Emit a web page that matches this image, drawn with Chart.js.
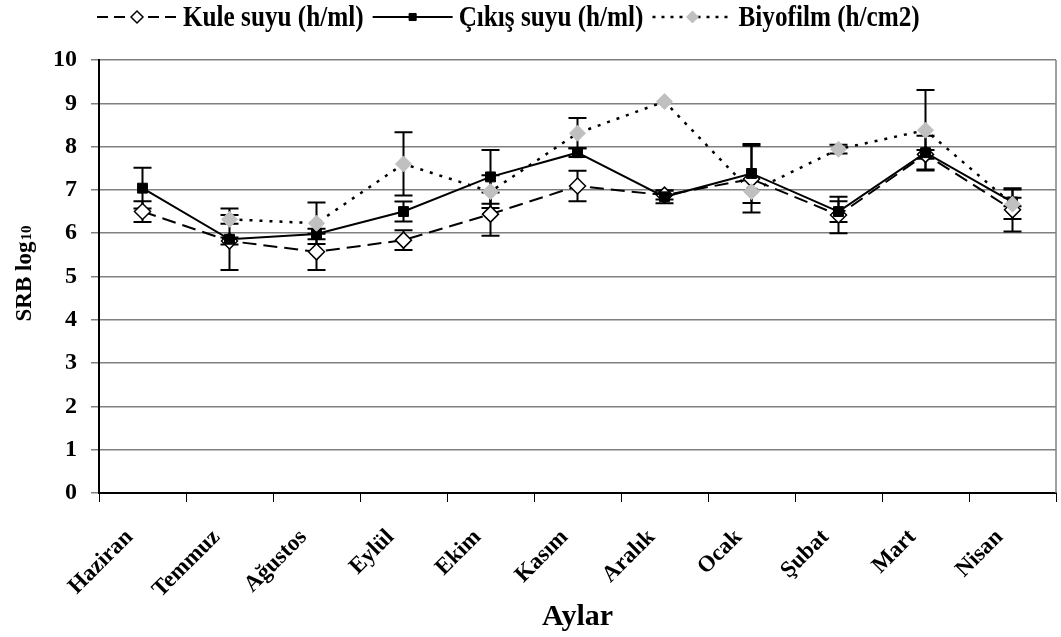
<!DOCTYPE html>
<html>
<head>
<meta charset="utf-8">
<script src="https://cdn.jsdelivr.net/npm/chart.js@4/dist/chart.umd.min.js"></script>
<style>
  html, body { margin: 0; padding: 0; background: #fff; }
  #wrap { width: 1061px; height: 637px; }
</style>
</head>
<body>
<div id="wrap"><canvas id="c" width="1061" height="637"></canvas></div>
<script>
// Monthly SRB counts (log10) for tower water, outlet water and biofilm
const months = ['Haziran', 'Temmuz', 'Ağustos', 'Eylül', 'Ekim', 'Kasım', 'Aralık', 'Ocak', 'Şubat', 'Mart', 'Nisan'];

const kuleSuyu    = [6.50, 5.82, 5.57, 5.84, 6.44, 7.09, 6.88, 7.25, 6.42, 7.82, 6.54];
const kuleHata    = [0.24, 0.08, 0.42, 0.23, 0.50, 0.35, 0.10, 0.77, 0.42, 0.10, 0.50];

const cikisSuyu   = [7.04, 5.86, 5.98, 6.50, 7.30, 7.86, 6.84, 7.38, 6.50, 7.86, 6.72];
const cikisHata   = [0.47, 0.71, 0.12, 0.23, 0.62, 0.10, 0.15, 0.68, 0.24, 0.39, 0.10];

const biyofilm    = [null, 6.32, 6.23, 7.60, 6.96, 8.31, 9.04, 6.96, 7.94, 8.38, 6.67];
const biyofilmHata= [0, 0.10, 0.48, 0.73, 0.38, 0.35, 0, 0, 0.10, 0.93, 0.34];

const yTicks = [0, 1, 2, 3, 4, 5, 6, 7, 8, 9, 10];

const serif = '"Liberation Serif", "Times New Roman", serif';

// vertical error bars with caps, drawn from each dataset's "errors" array
const errorBars = {
  id: 'errorBars',
  beforeDatasetsDraw(chart) {
    const ctx = chart.ctx;
    const ys = chart.scales.y;
    chart.data.datasets.forEach((ds, i) => {
      const meta = chart.getDatasetMeta(i);
      if (!ds.errors) return;
      ctx.save();
      ctx.strokeStyle = '#000';
      ctx.lineWidth = 2;
      meta.data.forEach((pt, j) => {
        const v = ds.data[j];
        const e = ds.errors[j];
        if (v == null || !e) return;
        const x = pt.x;
        const yTop = ys.getPixelForValue(v + e);
        const yBot = ys.getPixelForValue(v - e);
        ctx.beginPath();
        ctx.moveTo(x, yTop); ctx.lineTo(x, yBot);
        ctx.moveTo(x - 9, yTop); ctx.lineTo(x + 9, yTop);
        ctx.moveTo(x - 9, yBot); ctx.lineTo(x + 9, yBot);
        ctx.stroke();
      });
      ctx.restore();
    });
  }
};

// frame, y axis title with subscript and the legend row
const decorations = {
  id: 'decorations',
  afterDraw(chart) {
    const ctx = chart.ctx;
    const a = chart.chartArea;
    ctx.save();
    // right edge of the plot frame
    ctx.strokeStyle = '#808080';
    ctx.lineWidth = 1.5;
    ctx.beginPath();
    ctx.moveTo(a.right, a.top); ctx.lineTo(a.right, a.bottom);
    ctx.stroke();

    // y axis title: SRB log10
    ctx.translate(25, 274);
    ctx.rotate(-Math.PI / 2);
    ctx.fillStyle = '#000';
    ctx.textBaseline = 'middle';
    const main = 'SRB log';
    ctx.font = 'bold 23px ' + serif;
    const w1 = ctx.measureText(main).width;
    ctx.font = 'bold 15px ' + serif;
    const w2 = ctx.measureText('10').width;
    const start = -(w1 + w2) / 2;
    ctx.font = 'bold 23px ' + serif;
    ctx.textAlign = 'left';
    ctx.fillText(main, start, 0);
    ctx.font = 'bold 15px ' + serif;
    ctx.fillText('10', start + w1 + 1, 2);
    ctx.restore();

    // legend (narrowed bold serif)
    ctx.save();
    ctx.textBaseline = 'middle';
    ctx.fillStyle = '#000';
    const ly = 17;
    const squeeze = 0.84;
    let x = 97;
    chart.data.datasets.slice().sort((p, q) => p.legendIndex - q.legendIndex).forEach(ds => {
      const len = 80;
      ctx.save();
      ctx.strokeStyle = '#000';
      ctx.lineWidth = ds.borderWidth;
      ctx.setLineDash(ds.legendDash || []);
      ctx.beginPath();
      ctx.moveTo(x, ly); ctx.lineTo(x + len, ly);
      ctx.stroke();
      ctx.restore();
      ctx.save();
      ctx.fillStyle = ds.pointBackgroundColor;
      ctx.strokeStyle = ds.pointBorderColor;
      ctx.lineWidth = ds.pointBorderWidth;
      Chart.helpers.drawPoint(ctx, {
        pointStyle: ds.pointStyle,
        radius: ds.pointRadius - 2,
        borderWidth: ds.pointBorderWidth
      }, x + len / 2, ly);
      ctx.restore();
      ctx.save();
      ctx.font = 'bold 30px ' + serif;
      const tx = x + len + 6;
      ctx.translate(tx, ly + 1);
      ctx.scale(squeeze, 1);
      ctx.textAlign = 'left';
      ctx.fillStyle = '#000';
      ctx.fillText(ds.label, 0, 0);
      const tw = ctx.measureText(ds.label).width * squeeze;
      ctx.restore();
      x = tx + tw + 9;
    });
    ctx.restore();
  }
};

new Chart(document.getElementById('c'), {
  type: 'line',
  data: {
    labels: months,
    datasets: [
      {
        label: 'Biyofilm (h/cm2)',
        legendIndex: 2,
        legendDash: [3, 6],
        data: biyofilm,
        errors: biyofilmHata,
        borderColor: '#000',
        borderWidth: 2.5,
        borderDash: [3, 7],
        pointStyle: 'rectRot',
        pointRadius: 8,
        pointBackgroundColor: '#c0c0c0',
        pointBorderColor: '#c0c0c0',
        pointBorderWidth: 1,
        spanGaps: false,
        order: 0
      },
      {
        label: 'Çıkış suyu (h/ml)',
        legendIndex: 1,
        data: cikisSuyu,
        errors: cikisHata,
        borderColor: '#000',
        borderWidth: 2,
        pointStyle: 'rect',
        pointRadius: 7,
        pointBackgroundColor: '#000',
        pointBorderColor: '#000',
        pointBorderWidth: 1,
        order: 1
      },
      {
        label: 'Kule suyu (h/ml)',
        legendIndex: 0,
        legendDash: [11, 6],
        data: kuleSuyu,
        errors: kuleHata,
        borderColor: '#000',
        borderWidth: 2,
        borderDash: [14, 7],
        pointStyle: 'rectRot',
        pointRadius: 8,
        pointBackgroundColor: '#fff',
        pointBorderColor: '#000',
        pointBorderWidth: 1.5,
        order: 2
      }
    ]
  },
  options: {
    responsive: false,
    animation: false,
    devicePixelRatio: 1,
    layout: { autoPadding: false, padding: { top: 60, right: 5, left: 0, bottom: 0 } },
    plugins: {
      legend: { display: false },
      tooltip: { enabled: false }
    },
    elements: { line: { tension: 0 } },
    scales: {
      x: {
        type: 'category',
        offset: true,
        afterFit(s) { s.height = 144; s.paddingLeft = 0; s.paddingRight = 0; },
        grid: {
          offset: true,
          drawOnChartArea: false,
          drawTicks: true,
          tickLength: 9,
          color: '#000',
          lineWidth: 1
        },
        border: { color: '#000', width: 2 },
        ticks: {
          color: '#000',
          font: { family: serif, size: 23, weight: 'bold' },
          minRotation: 45,
          maxRotation: 45,
          padding: 22,
          labelOffset: -13,
          autoSkip: false
        },
        title: {
          display: true,
          text: 'Aylar',
          color: '#000',
          font: { family: serif, size: 30, weight: 'bold' },
          padding: { top: 2, bottom: 2 }
        }
      },
      y: {
        min: 0,
        max: 10,
        afterFit(s) { s.width = 99; },
        afterBuildTicks(s) { s.ticks = yTicks.map(v => ({ value: v })); },
        grid: {
          color: '#808080',
          lineWidth: 1.5,
          drawTicks: true,
          tickLength: 8
        },
        border: { color: '#000', width: 2 },
        ticks: {
          color: '#000',
          font: { family: serif, size: 24, weight: 'bold' },
          padding: 14
        }
      }
    }
  },
  plugins: [errorBars, decorations]
});
</script>
</body>
</html>
